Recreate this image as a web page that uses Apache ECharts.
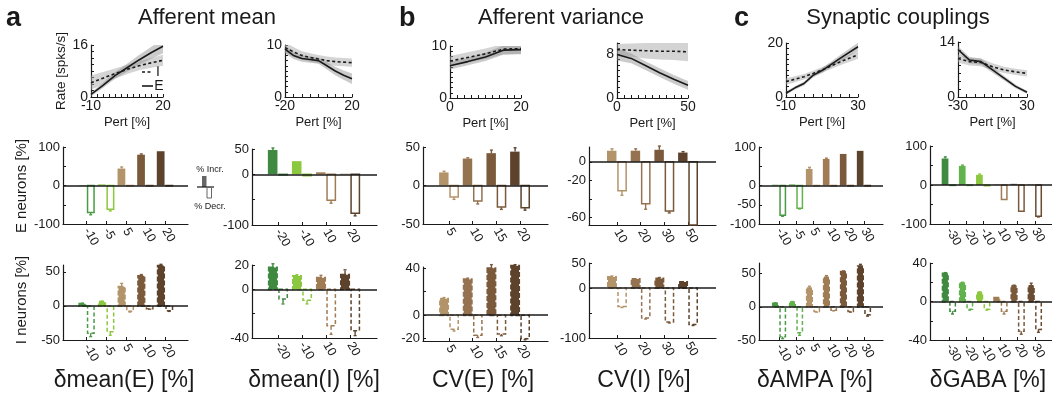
<!DOCTYPE html>
<html>
<head>
<meta charset="utf-8">
<script src="https://cdn.jsdelivr.net/npm/echarts@6/dist/echarts.min.js"></script>
<style>
  html, body { margin: 0; padding: 0; background: #fff; }
  #main { width: 1052px; height: 400px; }
</style>
</head>
<body>
<div id="main"></div>
<script>
// ---------- top row: rate vs perturbation ----------
const pertMeanE = [-10, -5, 0, 5, 10, 15, 20];
const rateEMeanE = [0.8, 3.6, 6.6, 9.0, 11.4, 13.6, 15.6];
const bandEMeanE = [0.6, 0.8, 1.0, 1.2, 1.5, 1.8, 2.1];
const rateIMeanE = [4.4, 5.8, 7.2, 8.5, 9.6, 10.5, 11.3];
const bandIMeanE = [2.2, 1.9, 1.6, 1.4, 1.4, 1.5, 1.7];

const pertMeanI = [-20, -15, -10, -5, 0, 5, 10, 15, 20];
const rateEMeanI = [9.2, 8.0, 7.4, 7.2, 7.0, 6.0, 5.0, 4.2, 3.5];
const bandEMeanI = [0.8, 0.7, 0.6, 0.6, 0.6, 0.7, 0.8, 0.9, 1.0];
const rateIMeanI = [9.5, 8.7, 8.0, 7.6, 7.3, 7.0, 6.8, 6.7, 6.6];
const bandIMeanI = [1.0, 0.9, 0.8, 0.8, 0.8, 0.8, 0.8, 0.8, 0.8];

const pertCvE = [0, 5, 10, 15, 20];
const rateECvE = [6.2, 7.0, 7.9, 9.2, 9.3];
const bandECvE = [0.7, 0.7, 0.8, 0.9, 0.9];
const rateICvE = [7.1, 7.8, 8.5, 9.4, 9.5];
const bandICvE = [1.0, 1.0, 1.0, 1.0, 1.0];

const pertCvI = [0, 10, 20, 30, 40, 50];
const rateECvI = [7.9, 7.2, 5.9, 4.6, 3.4, 2.3];
const bandECvI = [1.1, 0.9, 0.8, 0.8, 0.8, 0.8];
const rateICvI = [8.8, 8.7, 8.6, 8.5, 8.5, 8.4];
const bandICvI = [1.0, 1.2, 1.4, 1.5, 1.6, 1.7];

const pertAmpa = [-10, -5, 0, 5, 10, 20, 30];
const rateEAmpa = [1.4, 3.4, 5.0, 8.0, 9.8, 14.3, 18.6];
const bandEAmpa = [0.6, 0.6, 0.7, 0.8, 0.9, 1.2, 1.5];
const rateIAmpa = [5.7, 6.6, 7.5, 8.7, 10.0, 13.0, 15.6];
const bandIAmpa = [1.2, 1.1, 1.0, 1.0, 1.0, 1.2, 1.4];

const pertGaba = [-30, -20, -10, 0, 10, 20, 30];
const rateEGaba = [12.1, 9.4, 9.0, 6.9, 4.8, 2.7, 1.2];
const bandEGaba = [0.8, 0.8, 0.8, 0.7, 0.6, 0.5, 0.4];
const rateIGaba = [9.8, 9.0, 8.8, 7.7, 6.9, 6.4, 6.0];
const bandIGaba = [1.0, 1.0, 1.0, 0.9, 0.8, 0.8, 0.8];

// ---------- bar rows: % neurons increasing / decreasing ----------
const catsMeanE = ['-10', '-5', '5', '10', '20'];
const eIncMeanE = [1, 3, 44, 80, 89];
const eIncErrMeanE = [0.5, 1, 4, 2, 1];
const eDecMeanE = [-70, -62, -1, -1, -1];
const eDecErrMeanE = [6, 4, 0, 0, 0];
const iIncMeanE = [3, 6, 28, 44, 59];
const iIncErrMeanE = [1, 1, 5, 2, 2];
const iDecMeanE = [-40, -38, -8, -4, -7];
const iDecErrMeanE = [5, 5, 1, 1, 1];

const catsMeanI = ['-20', '-10', '10', '20'];
const eIncMeanI = [48, 26, 4, 1];
const eIncErrMeanI = [4, 1, 1, 0];
const eDecMeanI = [-1, -3, -51, -77];
const eDecErrMeanI = [0, 0, 6, 5];
const iIncMeanI = [18, 11, 9.5, 12];
const iIncErrMeanI = [3, 1, 2, 4];
const iDecMeanI = [-8, -9, -30, -34];
const iDecErrMeanI = [4, 3, 7, 4];

const catsCvE = ['5', '10', '15', '20'];
const eIncCvE = [17, 35, 42, 44];
const eIncErrCvE = [1.5, 1, 4, 5];
const eDecCvE = [-15, -20, -28, -29];
const eDecErrCvE = [3, 4, 3, 3];
const iIncCvE = [14, 30.5, 40, 42];
const iIncErrCvE = [1, 1, 3, 1];
const iDecCvE = [-12, -17, -16, -20];
const iDecErrCvE = [1.5, 2, 1.5, 1];

const catsCvI = ['10', '20', '30', '50'];
const eIncCvI = [12, 12, 13, 10];
const eIncErrCvI = [2, 2, 4, 1];
const eDecCvI = [-31, -45, -53, -68];
const eDecErrCvI = [5, 6, 2, 0];
const iIncCvI = [22, 18, 19, 12];
const iIncErrCvI = [2, 1, 2, 0];
const iDecCvI = [-37, -60, -68, -73];
const iDecErrCvI = [2, 2, 2, 2];

const catsAmpa = ['-10', '-5', '5', '10', '20', '30'];
const eIncAmpa = [2, 3, 43, 69, 82, 90];
const eIncErrAmpa = [0, 1, 4, 2, 1, 0];
const eDecAmpa = [-77, -59, -1, -1, -1, -1];
const eDecErrAmpa = [3, 2, 0, 0, 0, 0];
const iIncAmpa = [5, 7, 28, 44, 53, 61];
const iIncErrAmpa = [1, 1, 3, 3, 1, 3];
const iDecAmpa = [-45, -39, -7, -5, -7, -12];
const iDecErrAmpa = [3, 4, 1, 1, 1, 2];

const catsGaba = ['-30', '-20', '-10', '10', '20', '30'];
const eIncGaba = [68, 49, 26, 1, 3, 1];
const eIncErrGaba = [4, 2, 2, 0, 0, 0];
const eDecGaba = [-1, -1, -2, -37, -67, -80];
const eDecErrGaba = [0, 0, 0, 1, 1, 2];
const iIncGaba = [29, 19, 9, 4, 16, 16];
const iIncErrGaba = [1, 1, 1, 0, 1, 3];
const iDecGaba = [-10, -8, -8, -10, -31, -29];
const iDecErrGaba = [3, 1, 1, 3, 3, 3];

// tick labels of the bar panels
const eTicksMeanE = [-100, 0, 100], iTicksMeanE = [-50, 0, 50];
const eTicksMeanI = [-100, 0, 50], iTicksMeanI = [-40, 0, 20];
const eTicksCvE = [-50, 0, 50], iTicksCvE = [-20, 0, 40];
const eTicksCvI = [-60, -20, 0], iTicksCvI = [-100, 0, 50];
const eTicksAmpa = [-100, -50, 0, 100], iTicksAmpa = [-50, 0, 50];
const eTicksGaba = [-100, 0, 100], iTicksGaba = [-40, 0, 40];

// colours (one per perturbation)
const DG = '#3f8a40', MG = '#4b9a45', G2 = '#62b24e', LG = '#8cc83f';
const TAN = '#b3946a', BR1 = '#a07c55', BR2 = '#957250', BR3 = '#7b5a3b', DB = '#5e432c';

const FONT = 'Liberation Sans, Arial, Helvetica, sans-serif';
const INK = '#1a1a1a';

const chart = echarts.init(document.getElementById('main'));

const grids = [], xAxes = [], yAxes = [], series = [];

function range(a, b, s) {
  const out = [];
  for (let v = a; v <= b + 1e-9; v += s) out.push(+v.toFixed(4));
  return out;
}

function baseAxis(extra) {
  return Object.assign({
    type: 'value',
    splitLine: { show: false },
    axisLine: { show: true, onZero: false, lineStyle: { color: INK, width: 1.2 } },
    axisTick: { show: true, inside: true, length: 3, lineStyle: { color: INK, width: 1 } },
    axisLabel: { color: INK, fontSize: 13, fontFamily: FONT, margin: 3 }
  }, extra);
}

// line panel (top row)
function linePanel(rect, xr, xStep, yr, yStep, yLab, xs, mE, bE, mI, bI, yName) {
  const gi = grids.length;
  grids.push({ left: rect[0], top: rect[1], width: rect[2], height: rect[3] });
  const xa = baseAxis({ gridIndex: gi, min: xr[0], max: xr[1], name: 'Pert [%]', nameLocation: 'middle', nameGap: 19,
    nameTextStyle: { fontSize: 13, color: INK, fontFamily: FONT } });
  xa.axisTick = Object.assign({}, xa.axisTick, { customValues: range(xr[0], xr[1], xStep) });
  xa.axisLabel = Object.assign({}, xa.axisLabel, { customValues: [xr[0], xr[1]], margin: 2, fontSize: 14 });
  xAxes.push(xa);
  const ya = baseAxis({ gridIndex: gi, min: yr[0], max: yr[1] });
  ya.axisTick = Object.assign({}, ya.axisTick, { customValues: range(yr[0], yr[1], yStep) });
  ya.axisLabel = Object.assign({}, ya.axisLabel, { customValues: yLab, fontSize: 14 });
  if (yName) {
    Object.assign(ya, { name: yName, nameLocation: 'middle', nameGap: 16, nameRotate: 90,
      nameTextStyle: { fontSize: 13.5, color: INK, fontFamily: FONT } });
  }
  yAxes.push(ya);
  const band = (m, b, fill) => ({
    type: 'custom', xAxisIndex: gi, yAxisIndex: gi, silent: true, clip: true, z: 1,
    data: [[xs[0], m[0]]],
    renderItem: (params, api) => {
      const up = xs.map((x, k) => api.coord([x, m[k] + b[k]]));
      const lo = xs.map((x, k) => api.coord([x, m[k] - b[k]])).reverse();
      return { type: 'polygon', shape: { points: up.concat(lo) }, style: { fill: fill } };
    }
  });
  series.push(band(mI, bI, 'rgba(170,170,170,0.5)'));
  series.push(band(mE, bE, 'rgba(140,140,140,0.45)'));
  series.push({ type: 'line', xAxisIndex: gi, yAxisIndex: gi, data: xs.map((x, k) => [x, mI[k]]),
    showSymbol: false, z: 3, lineStyle: { color: INK, width: 1.6, type: [3, 2.5] } });
  series.push({ type: 'line', xAxisIndex: gi, yAxisIndex: gi, data: xs.map((x, k) => [x, mE[k]]),
    showSymbol: false, z: 4, lineStyle: { color: INK, width: 1.6 } });
}

// bar panel (rows 2 and 3)
function barPanel(rect, xr, yr, yLab, yTick, cats, colors, inc, incErr, dec, decErr, dashed) {
  const gi = grids.length;
  const bw = 0.42;
  grids.push({ left: rect[0], top: rect[1], width: rect[2], height: rect[3] });
  const pos = cats.map((c, k) => k + 1);
  const xa = baseAxis({ gridIndex: gi, min: xr[0], max: xr[1] });
  xa.axisTick = Object.assign({}, xa.axisTick, { customValues: pos });
  xa.axisLabel = Object.assign({}, xa.axisLabel, { customValues: pos, rotate: -60, fontSize: 12.5, margin: 5,
    formatter: v => cats[Math.round(v) - 1] });
  xAxes.push(xa);
  const ya = baseAxis({ gridIndex: gi, min: yr[0], max: yr[1] });
  ya.axisTick = Object.assign({}, ya.axisTick, { customValues: yTick });
  ya.axisLabel = Object.assign({}, ya.axisLabel, { customValues: yLab });
  yAxes.push(ya);
  const rows = inc.map((v, k) => [k + 1, v, v + incErr[k], dec[k], dec[k] - decErr[k]]);
  const dash = dashed ? [4, 2.5] : null;
  const errBar = (x, y, tip, c) => {
    if (Math.abs(tip - y) < 0.6) return null;
    return { type: 'group', children: [
      { type: 'line', shape: { x1: x, y1: y, x2: x, y2: tip }, style: { stroke: c, lineWidth: 1.4, lineDash: dash } },
      { type: 'line', shape: { x1: x - 1.5, y1: tip, x2: x + 1.5, y2: tip }, style: { stroke: c, lineWidth: 1.4 } }
    ] };
  };
  series.push({
    type: 'custom', xAxisIndex: gi, yAxisIndex: gi, data: rows, silent: true, z: 2,
    renderItem: (params, api) => {
      const x = api.value(0);
      const c = colors[params.dataIndex];
      const base = api.coord([x, 0]);
      const l = api.coord([x - bw, 0])[0];
      const r = api.coord([x + bw, 0])[0];
      const mid = base[0], y0 = base[1];
      const yInc = api.coord([x, api.value(1)])[1];
      const yIncTip = api.coord([x, api.value(2)])[1];
      const yDec = api.coord([x, api.value(3)])[1];
      const yDecTip = api.coord([x, api.value(4)])[1];
      const kids = [];
      if (dashed) {
        kids.push({ type: 'rect', shape: { x: l + 1, y: yInc, width: mid - l - 2, height: y0 - yInc },
          style: { fill: c, stroke: c, lineWidth: 2, lineDash: [5, 2] } });
      } else {
        kids.push({ type: 'rect', shape: { x: l, y: yInc, width: mid - l - 0.5, height: y0 - yInc }, style: { fill: c } });
      }
      const e1 = errBar((l + mid) / 2, yInc, yIncTip, c);
      if (e1) kids.push(e1);
      kids.push({ type: 'rect', shape: { x: mid + 1, y: y0, width: r - mid - 1.75, height: yDec - y0 },
        style: { fill: dashed ? 'none' : '#fff', stroke: c, lineWidth: 1.5, lineDash: dash } });
      const e2 = errBar((mid + r) / 2, yDec, yDecTip, c);
      if (e2) kids.push(e2);
      return { type: 'group', children: kids };
    },
    markLine: { silent: true, symbol: 'none', animation: false, label: { show: false },
      lineStyle: { color: INK, width: 1.5, type: 'solid' }, data: [{ yAxis: 0 }] }
  });
}

// top row
linePanel([91, 45, 72, 52], [-10, 20], 2.5, [0, 16], 2, [0, 16], pertMeanE, rateEMeanE, bandEMeanE, rateIMeanE, bandIMeanE, 'Rate [spks/s]');
linePanel([285, 45, 67, 52], [-20, 20], 5, [0, 10], 1, [0, 10], pertMeanI, rateEMeanI, bandEMeanI, rateIMeanI, bandIMeanI);
linePanel([450, 46, 71, 52], [0, 20], 2, [0, 10], 1, [0, 10], pertCvE, rateECvE, bandECvE, rateICvE, bandICvE);
linePanel([617, 43, 71, 55], [0, 50], 5, [0, 10], 1, [0, 8], pertCvI, rateECvI, bandECvI, rateICvI, bandICvI);
linePanel([786, 43, 72, 54], [-10, 30], 5, [0, 20], 2, [0, 20], pertAmpa, rateEAmpa, bandEAmpa, rateIAmpa, bandIAmpa);
linePanel([958, 42, 69, 55], [-30, 30], 7.5, [0, 14], 2, [0, 14], pertGaba, rateEGaba, bandEGaba, rateIGaba, bandIGaba);

// E neurons
barPanel([63, 147, 125, 77], [-0.2, 6.17], [-100, 100], eTicksMeanE, [-100, -50, 0, 50, 100], catsMeanE, [MG, LG, TAN, BR3, DB], eIncMeanE, eIncErrMeanE, eDecMeanE, eDecErrMeanE, false);
barPanel([252, 149, 125, 76], [-0.08, 5.12], [-100, 50], eTicksMeanI, [-100, -50, 0, 50], catsMeanI, [DG, LG, BR1, DB], eIncMeanI, eIncErrMeanI, eDecMeanI, eDecErrMeanI, false);
barPanel([423, 147, 125, 77], [-0.1, 5.18], [-50, 50], eTicksCvE, [-50, 0, 50], catsCvE, [TAN, BR2, BR3, DB], eIncCvE, eIncErrCvE, eDecCvE, eDecErrCvE, false);
barPanel([589, 147, 127, 78], [-0.18, 5.18], [-68, 16], eTicksCvI, [-60, -40, -20, 0], catsCvI, [TAN, BR2, BR3, DB], eIncCvI, eIncErrCvI, eDecCvI, eDecErrCvI, false);
barPanel([759, 147, 124, 77], [-0.18, 7.12], [-100, 100], eTicksAmpa, [-100, -50, 0, 50, 100], catsAmpa, [MG, G2, TAN, BR1, BR3, DB], eIncAmpa, eIncErrAmpa, eDecAmpa, eDecErrAmpa, false);
barPanel([930, 146, 122, 78], [-0.1, 7.0], [-100, 100], eTicksGaba, [-100, -50, 0, 50, 100], catsGaba, [DG, G2, LG, BR1, BR3, '#6a4c32'], eIncGaba, eIncErrGaba, eDecGaba, eDecErrGaba, false);

// I neurons
barPanel([63, 265, 125, 75], [-0.2, 6.17], [-50, 60], iTicksMeanE, [-50, 0, 50], catsMeanE, [MG, LG, TAN, BR3, DB], iIncMeanE, iIncErrMeanE, iDecMeanE, iDecErrMeanE, true);
barPanel([252, 265, 125, 73], [-0.08, 5.12], [-40, 20], iTicksMeanI, [-40, -20, 0, 20], catsMeanI, [DG, LG, BR1, DB], iIncMeanI, iIncErrMeanI, iDecMeanI, iDecErrMeanI, true);
barPanel([423, 267, 125, 74], [-0.1, 5.18], [-22, 41], iTicksCvE, [-20, 0, 20, 40], catsCvE, [TAN, BR2, BR3, DB], iIncCvE, iIncErrCvE, iDecCvE, iDecErrCvE, true);
barPanel([589, 263, 127, 75], [-0.18, 5.18], [-100, 50], iTicksCvI, [-100, -50, 0, 50], catsCvI, [TAN, BR2, BR3, DB], iIncCvI, iIncErrCvI, iDecCvI, iDecErrCvI, true);
barPanel([759, 263, 124, 77], [-0.18, 7.12], [-50, 66], iTicksAmpa, [-50, 0, 50], catsAmpa, [MG, G2, TAN, BR1, BR3, DB], iIncAmpa, iIncErrAmpa, iDecAmpa, iDecErrAmpa, true);
barPanel([930, 263, 122, 77], [-0.1, 7.0], [-40, 40], iTicksGaba, [-40, -20, 0, 20, 40], catsGaba, [DG, G2, LG, BR1, BR3, '#6a4c32'], iIncGaba, iIncErrGaba, iDecGaba, iDecErrGaba, true);

function txt(x, y, s, size, opts) {
  return Object.assign({ type: 'text', x: x, y: y, style: Object.assign({ text: s, fontSize: size, fontFamily: FONT,
    fill: INK, align: 'center', verticalAlign: 'middle' }, opts || {}) });
}

const graphic = [
  txt(6, 19, 'a', 27, { fontWeight: 'bold', align: 'left' }),
  txt(207, 18, 'Afferent mean', 22),
  txt(399, 19, 'b', 27, { fontWeight: 'bold', align: 'left' }),
  txt(561, 18, 'Afferent variance', 22),
  txt(734, 19, 'c', 27, { fontWeight: 'bold', align: 'left' }),
  txt(898, 18, 'Synaptic couplings', 22),
  Object.assign(txt(22, 186, 'E neurons [%]', 15), { rotation: Math.PI / 2 }),
  Object.assign(txt(22, 300, 'I neurons [%]', 15), { rotation: Math.PI / 2 }),
  txt(124, 381, 'δmean(E) [%]', 23),
  txt(314, 381, 'δmean(I) [%]', 23),
  txt(483, 381, 'CV(E) [%]', 23),
  txt(644, 381, 'CV(I) [%]', 23),
  txt(815, 381, 'δAMPA [%]', 23),
  txt(988, 381, 'δGABA [%]', 23),
  // legend of the rate panel
  { type: 'line', shape: { x1: 142, y1: 72, x2: 153, y2: 72 }, style: { stroke: INK, lineWidth: 1.6, lineDash: [3, 2.5] } },
  txt(158, 72, 'I', 14),
  { type: 'line', shape: { x1: 142, y1: 86, x2: 153, y2: 86 }, style: { stroke: INK, lineWidth: 1.6 } },
  txt(159, 86, 'E', 14),
  // legend of the bar panels
  txt(210, 170, '% Incr.', 9),
  { type: 'rect', shape: { x: 202, y: 176, width: 4.5, height: 11 }, style: { fill: '#666' } },
  { type: 'line', shape: { x1: 197, y1: 187, x2: 214, y2: 187 }, style: { stroke: INK, lineWidth: 1.2 } },
  { type: 'rect', shape: { x: 207, y: 187.5, width: 4.5, height: 10.5 }, style: { fill: '#fff', stroke: '#666', lineWidth: 1 } },
  txt(210, 207, '% Decr.', 9)
];

chart.setOption({
  animation: false,
  backgroundColor: '#fff',
  grid: grids,
  xAxis: xAxes,
  yAxis: yAxes,
  series: series,
  graphic: graphic
});
</script>
</body>
</html>
